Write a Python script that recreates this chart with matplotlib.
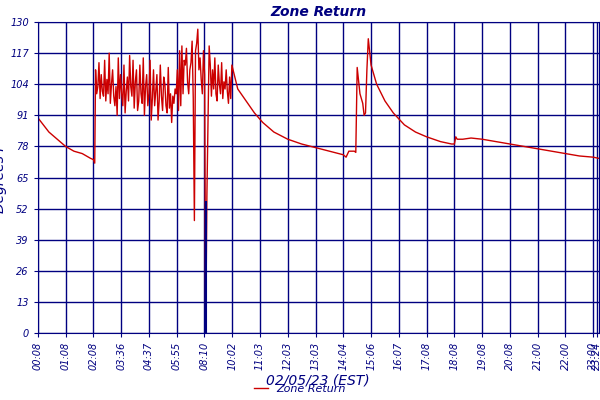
import matplotlib
matplotlib.use("Agg")
import matplotlib.pyplot as plt
import numpy as np

tick_labels = ["00:08","01:08","02:08","03:36","04:37","05:55","08:10","10:02","11:03","12:03",
               "13:03","14:04","15:06","16:07","17:08","18:08","19:08","20:08","21:00","22:00","23:00","23:24"]
tick_pos = list(range(21)) + [20.15]
y_ticks = [0,13,26,39,52,65,78,91,104,117,130]

# early decay
x_early = [0,0.2,0.4,0.6,0.8,1.0,1.3,1.6,1.9,2.0,2.05]
t_early = [90,87,84,82,80,78,76,75,73,72.5,71]
# cycling period, evenly sampled from 2.08 every 0.0409 grid units
t_cycle = [110,100,103,113,98,108,101,99,114,97,
           106,100,117,96,104,110,99,95,103,91,
           115,98,108,100,95,112,92,101,107,97,
           116,103,99,114,94,105,110,93,97,112,
           100,96,115,91,103,108,95,100,114,89,
           98,110,95,101,108,89,97,112,99,93,
           107,104,95,92,111,94,100,88,99,96,
           102,100,110,93,118,95,120,100,114,112,
           119,105,100,110,113,122,98,47,118,121,
           127,110,115,106,100,118,108,0,57,90,
           120,112,99,110,102,115,100,97,112,104,
           100,113,98,105,102,110,101,96,107,98,
           112]
cycle_start, cycle_step = 2.08, 0.0409
# afternoon
x_late = [7.2,7.5,7.8,8.1,8.5,9.0,9.5,10.0,10.5,11.0,
          11.1,11.2,11.4,11.45,11.5,11.6,11.7,11.75,11.8,11.85,11.9,
          12.0,12.2,12.5,12.8,13.2,13.6,14.0,14.5,14.9,
          15.0,15.05,15.1,15.3,15.6,16.0,16.5,17.0,17.5,18.0,18.5,19.0,19.5,20.0,20.2]
t_late = [102,97,92,88,84,81,79,77.5,76,74.5,
          73.5,76,76,75.5,111,100,96,91,92,110,123,
          112,104,97,92,87,84,82,80,79,
          79,82,81,81,81.5,81,80,79,78,77,76,75,74,73.5,73]

x_cycle = cycle_start + cycle_step * np.arange(len(t_cycle))
x_all = np.concatenate([x_early, x_cycle, x_late])
t_all = np.concatenate([t_early, t_cycle, t_late])

navy = "#000080"
plt.rcParams['font.family'] = ['DejaVu Sans']
fig = plt.figure(figsize=(6, 4), dpi=100)
ax = fig.add_axes([0.063, 0.1675, 0.935, 0.7775])
ax.plot(x_all, t_all, color="#cc0000", lw=1)
i0 = t_cycle.index(0)
ax.vlines(x_cycle[i0], 0, t_cycle[i0 + 1] - 2, color=navy, lw=1.5, zorder=3)
ax.set_xlim(0, 20.2)
ax.set_ylim(0, 130)
ax.set_yticks(y_ticks)
ax.set_yticklabels([str(v) for v in y_ticks], fontsize=7, color=navy, style="italic")
ax.set_xticks(tick_pos)
ax.set_xticklabels(tick_labels, rotation=90, fontsize=7, color=navy, style="italic")
ax.grid(True, color=navy, lw=1)
ax.tick_params(colors=navy, length=3)
for s in ax.spines.values():
    s.set_color(navy)
ax.set_title("Zone Return", color=navy, style="italic", fontweight="bold", fontsize=10, pad=4)
ax.set_ylabel("Degrees F", color=navy, style="italic", fontsize=10, labelpad=2)
ax.set_xlabel("02/05/23 (EST)", color=navy, style="italic", fontsize=10, labelpad=2)
leg = fig.legend(["Zone Return"], loc="lower center", bbox_to_anchor=(0.5, -0.01), frameon=False,
                 fontsize=8, handlelength=1.2)
for t in leg.get_texts():
    t.set_color(navy); t.set_style("italic")
fig.savefig("out.png", dpi=100)
